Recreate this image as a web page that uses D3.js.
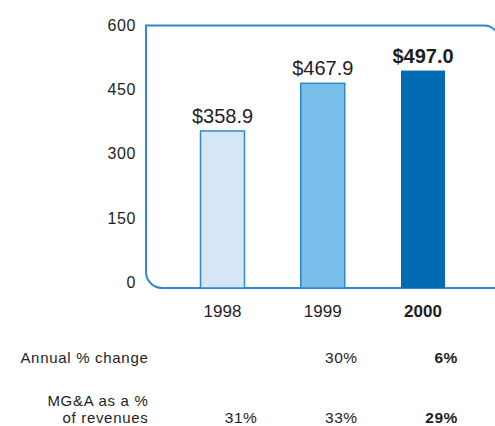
<!DOCTYPE html>
<html lang="en">
<head>
<meta charset="utf-8">
<title>MG&amp;A</title>
<script src="https://cdn.jsdelivr.net/npm/d3@7"></script>
<style>
  body { margin: 0; background: #fff; }
  svg text { font-family: "Liberation Sans", Arial, sans-serif; fill: #1e1e1e; }
  .axis path, .axis line { display: none; }
</style>
</head>
<body>
<script>
// data
var years = ["1998", "1999", "2000"];
var values = [358.9, 467.9, 497.0];
var valueLabels = ["$358.9", "$467.9", "$497.0"];
var yTicks = [0, 150, 300, 450, 600];
var annualChange = ["", "30%", "6%"];
var mgaPct = ["31%", "33%", "29%"];

var width = 495, height = 426;
var fills = ["#d5e7f6", "#79bee9", "#006bb3"];
var frameColor = "#2f88cc";

var svg = d3.select("body").append("svg")
    .attr("width", width)
    .attr("height", height);

// scales
var x = d3.scalePoint().domain(years).range([222.5, 423]);
var y = d3.scaleLinear().domain([0, 600]).range([288, 25.5]);
// tick labels in the original sit a little higher toward the bottom
var yLab = y.copy().range([282, 25.5]);
var barW = 44;

// frame: square top-left, rounded top-right and bottom-left, runs off the right edge
var L = 146, T = y(600), B = y(0), R = 499, r1 = 15, r2 = 16;
svg.append("path")
    .attr("d", "M" + R + "," + B + " L" + (L + r2) + "," + B +
               " A" + r2 + "," + r2 + " 0 0 1 " + L + "," + (B - r2) +
               " L" + L + "," + T +
               " L" + (R - r1) + "," + T +
               " A" + r1 + "," + r1 + " 0 0 1 " + R + "," + (T + r1))
    .attr("fill", "none")
    .attr("stroke", frameColor)
    .attr("stroke-width", 2);

// y axis labels
svg.append("g")
    .attr("class", "axis")
    .attr("transform", "translate(136,0)")
    .call(d3.axisLeft(yLab).tickValues(yTicks).tickSize(0).tickPadding(0))
    .selectAll("text")
        .style("font-family", null)
        .style("font-size", "16px")
        .style("letter-spacing", "0.6px")
        .attr("fill", "#1e1e1e");
svg.select(".axis").attr("font-family", null).attr("font-size", null);

// bars
svg.selectAll(".bar")
    .data(values)
  .enter().append("rect")
    .attr("class", "bar")
    .attr("x", function(d, i) { return x(years[i]) - barW / 2; })
    .attr("y", function(d) { return y(d); })
    .attr("width", barW)
    .attr("height", function(d) { return y(0) - y(d); })
    .attr("fill", function(d, i) { return fills[i]; })
    .attr("stroke", function(d, i) { return i < 2 ? frameColor : "none"; })
    .attr("stroke-width", 1.5);

// value labels
svg.selectAll(".vlab")
    .data(values)
  .enter().append("text")
    .attr("class", "vlab")
    .attr("x", function(d, i) { return x(years[i]); })
    .attr("y", function(d) { return y(d) - 8; })
    .attr("text-anchor", "middle")
    .style("font-size", "20px")
    .style("font-weight", function(d, i) { return i == 2 ? "bold" : "normal"; })
    .text(function(d, i) { return valueLabels[i]; });

// year labels
svg.selectAll(".year")
    .data(years)
  .enter().append("text")
    .attr("class", "year")
    .attr("x", function(d) { return x(d); })
    .attr("y", 316.5)
    .attr("text-anchor", "middle")
    .style("font-size", "17px")
    .style("font-weight", function(d, i) { return i == 2 ? "bold" : "normal"; })
    .text(function(d) { return d; });

// table rows under the chart
var rowLabelX = 148.5;
svg.append("text").attr("x", rowLabelX).attr("y", 362.5).attr("text-anchor", "end")
    .style("font-size", "15px").style("letter-spacing", "0.7px").text("Annual % change");
svg.append("text").attr("x", rowLabelX).attr("y", 405.5).attr("text-anchor", "end")
    .style("font-size", "15px").style("letter-spacing", "0.7px").text("MG&A as a %");
svg.append("text").attr("x", rowLabelX).attr("y", 423).attr("text-anchor", "end")
    .style("font-size", "15px").style("letter-spacing", "0.7px").text("of revenues");

function row(vals, yy) {
    svg.selectAll(null)
        .data(vals)
      .enter().append("text")
        .attr("x", function(d, i) { return x(years[i]) + 35; })
        .attr("y", yy)
        .attr("text-anchor", "end")
        .style("font-size", "15.5px")
        .style("letter-spacing", "0.6px")
        .style("font-weight", function(d, i) { return i == 2 ? "bold" : "normal"; })
        .text(function(d) { return d; });
}
row(annualChange, 362.5);
row(mgaPct, 423);
</script>
</body>
</html>
